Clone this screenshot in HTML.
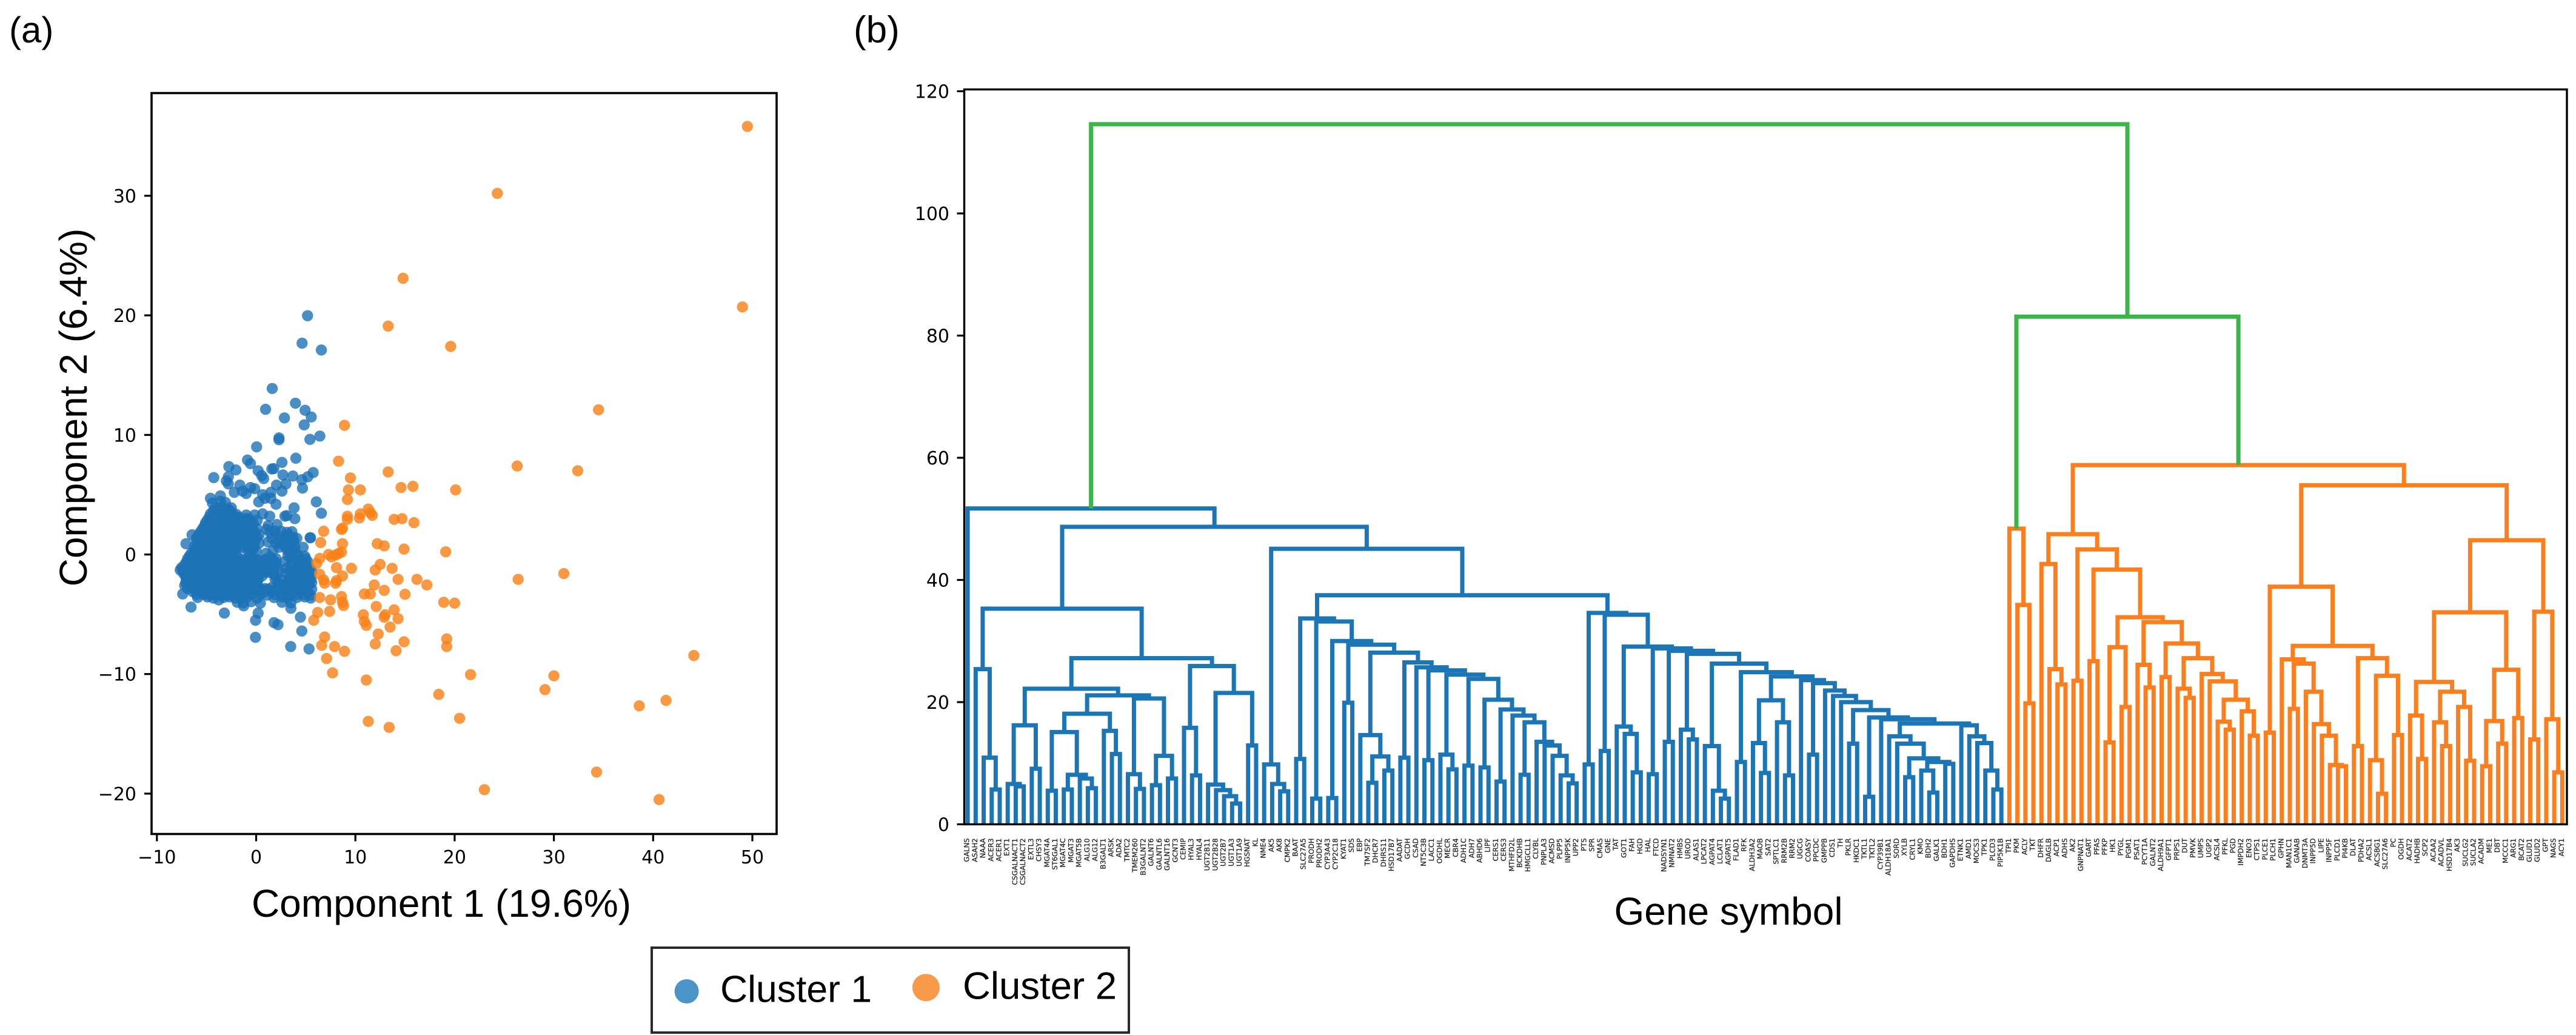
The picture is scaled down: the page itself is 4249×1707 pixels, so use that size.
<!DOCTYPE html>
<html lang="en">
<head>
<meta charset="utf-8">
<title>Gene clusters: PCA scatter and dendrogram</title>
<style>
html,body{margin:0;padding:0;background:#fff;}
svg{display:block;}
.h{font-family:"Liberation Sans",sans-serif;fill:#000;}
.t{font-family:"DejaVu Sans",sans-serif;fill:#000;}
</style>
</head>
<body>
<svg id="fig" xmlns="http://www.w3.org/2000/svg" width="4249" height="1707" viewBox="0 0 4249 1707">
  <rect x="0" y="0" width="4249" height="1707" fill="#fff"/>
  <text class="h" x="15" y="70" font-size="60">(a)</text>
  <text class="h" x="1408" y="70" font-size="62">(b)</text>
  <g id="scatter"></g>
  <g id="dendro"></g>
  <text class="h" x="728" y="1512" font-size="64" text-anchor="middle">Component 1 (19.6%)</text>
  <text class="h" transform="translate(143,672) rotate(-90)" font-size="64" text-anchor="middle">Component 2 (6.4%)</text>
  <text class="h" x="2851" y="1525" font-size="64" text-anchor="middle">Gene symbol</text>
  <g>
    <rect x="1075" y="1563" width="787" height="140" fill="#fff" stroke="#2a2a2a" stroke-width="4"/>
    <circle cx="1132.6" cy="1635" r="20" fill="#4a94c8"/>
    <text class="h" x="1188" y="1652.5" font-size="62.5">Cluster 1</text>
    <circle cx="1527.4" cy="1628.7" r="22.5" fill="#f99a4b"/>
    <text class="h" x="1588" y="1647.5" font-size="63.5">Cluster 2</text>
  </g>
</svg>
<script>
/* ---------- Panel (a) data ---------- */
const pcaXTicks = [-10, 0, 10, 20, 30, 40, 50];
const pcaYTicks = [-20, -10, 0, 10, 20, 30];

const clusterOnePoints = [
[5.18,19.97],[4.63,17.67],[6.57,17.1],[1.62,13.88],[3.96,12.65],[0.95,12.14],[4.93,12.06],[5.55,11.5],[2.85,11.42],[4.84,10.84],
[2.3,9.75],[2.3,9.6],[6.42,9.9],[5.42,9.63],[0.05,9],[4,8.05],[-0.87,7.9],[-0.57,7.6],[2.6,7.7],[1.58,7.15],[1.78,7.18],
[-2.75,7.35],[-2.04,7.07],[0.2,7],[0.56,6.6],[0.76,6.35],[2.7,6.65],[3.7,6.56],[5.75,6.85],[5.2,6.5],[4.6,6.25],[-4.27,6.43],
[-3,6.15],[-2.8,6.5],[-2.8,5.9],[2.05,5.8],[3,5.9],[4.67,5.55],[2.6,5.3],[-1.64,5.8],[-0.57,5.6],[-1.37,5.3],[-1,5.1],[-2.2,5.2],
[-0.15,5.5],[1.48,5.2],[0.65,5],[-4.6,4.7],[-3.6,4.9],[0.26,4.4],[0.87,4.7],[1.48,4.7],[2,4.2],[6.06,4.4],[3.82,3.9],[6.57,3.45],
[2.9,3.2],[3.1,3.25],[3.9,3],[-1,3.3],[-0.15,3.3],[0.65,3.4],[1.37,3.2],[-2,3.35],[2.1,2.5],[5.47,1.4],[4.73,0.6],[-7.07,0.9],[-6.46,1.65],
[-7.65,-1.3],[-7.4,-3.3],[-6.56,-4.4],[-3.77,-3.8],[-3.2,-4.9],[-1.26,-4.3],[0.2,-4.9],[-0.06,-5.5],[1.8,-5.7],[2.2,-5.87],[4.46,-5.24],
[4.6,-6.4],[-0.07,-6.93],[3.48,-7.7],[5.33,-7.9],[3.5,-4.5],[2.6,-4],[0.43,-4.07],[5.44,1.4],
[-4.4,4.3],[-3.6,4.45],[-3.1,4.35],[-4.1,3.9],[-3.5,3.95],[-2.9,3.85],[-2.5,3.9],[-4.6,3.4],[-4,3.35],[-3.4,3.45],[-2.8,3.4],[-2.3,3.3],
[-4.9,2.9],[-4.3,2.95],[-3.7,2.85],[-3.1,2.9],[-2.5,2.95],[-1.9,2.85],[-1.3,2.9],[-0.7,2.95],[0.1,2.85],
[-5.2,2.4],[-4.6,2.45],[-4,2.35],[-3.4,2.4],[-2.8,2.45],[-2.2,2.35],[-1.6,2.4],[-1,2.45],[-0.4,2.35],[1.2,2.4],[1.9,1.95],
[-5.6,1.9],[-5,1.95],[-4.4,1.85],[-3.8,1.9],[-3.2,1.95],[-2.6,1.85],[-2,1.9],[-1.4,1.95],[-0.8,1.85],[-0.2,1.9],[1.4,1.85],[2.5,1.95],[3.1,1.85],[3.6,1.9],
[-6,1.4],[-5.4,1.45],[-4.8,1.35],[-4.2,1.4],[-3.6,1.45],[-3,1.35],[-2.4,1.4],[-1.8,1.45],[-1.2,1.35],[-0.6,1.4],[0.1,1.45],[1.6,1.35],[2.9,1.4],[3.7,1.45],[4.1,1.35],
[-5.9,0.9],[-5.3,0.95],[-4.7,0.85],[-4.1,0.9],[-3.5,0.95],[-2.9,0.85],[-2.3,0.9],[-1.7,0.95],[-1.1,0.85],[-0.5,0.9],[0.3,0.95],[1.2,1.05],[2,0.95],[2.6,0.85],[3.4,0.9],
[-6.2,0.4],[-5.6,0.45],[-5,0.35],[-4.4,0.4],[-3.8,0.45],[-3.2,0.35],[-2.6,0.4],[-2,0.45],[-0.9,0.4],[-0.3,0.45],[1,0.1],[1.7,0.35],[3.1,0.4],[3.8,0.45],
[-6.7,-0.1],[-6.1,-0.05],[-5.5,-0.15],[-4.9,-0.1],[-4.3,-0.05],[-3.7,-0.15],[-3.1,-0.1],[-2.5,-0.05],[-1.9,-0.15],[-0.6,-0.3],[0.1,-0.4],[1.4,-0.2],[2,-0.35],[3.2,-0.1],[4.2,-0.05],[4.9,-0.15],
[-7,-0.6],[-6.4,-0.55],[-5.8,-0.65],[-5.2,-0.6],[-4.6,-0.55],[-4,-0.65],[-3.4,-0.6],[-2.8,-0.55],[-2.2,-0.65],[-1.6,-0.6],[-1,-0.55],[-0.4,-0.65],[0.2,-0.7],[0.8,-0.55],[1.4,-0.65],[2,-0.7],[2.9,-0.6],[4,-0.55],[4.6,-0.65],[5.2,-0.6],
[-7.5,-1.1],[-6.9,-1.05],[-6.3,-1.15],[-5.7,-1.1],[-5.1,-1.05],[-4.5,-1.15],[-3.9,-1.1],[-3.3,-1.05],[-2.7,-1.15],[-2.1,-1.1],[-1.5,-1.05],[-0.9,-1.15],[-0.3,-1.1],[0.3,-1.05],[0.9,-1.15],[1.5,-1.1],[2.1,-1.05],[3.1,-1.15],[4.1,-1.1],[4.8,-1.05],[5.4,-1.15],
[-7.3,-1.6],[-6.7,-1.55],[-6.1,-1.65],[-5.5,-1.6],[-4.9,-1.55],[-4.3,-1.65],[-3.7,-1.6],[-3.1,-1.55],[-2.5,-1.65],[-1.9,-1.6],[-1.3,-1.55],[-0.7,-1.65],[-0.1,-1.6],[0.5,-1.55],[1.1,-1.5],[1.7,-1.6],[3,-1.55],[3.9,-1.65],[4.5,-1.6],[5.2,-1.55],
[-7,-2.1],[-6.4,-2.05],[-5.8,-2.15],[-5.2,-2.1],[-4.6,-2.05],[-4,-2.15],[-3.4,-2.1],[-2.8,-2.05],[-2.2,-2.15],[-1.6,-2.1],[-1,-2.05],[-0.4,-2.15],[0.2,-2.1],[1.9,-2.05],[2.6,-2.15],[3.4,-2.1],[4.2,-2.05],[4.9,-2.15],[5.5,-2.1],
[-7.2,-2.6],[-6.6,-2.55],[-6,-2.65],[-5.4,-2.6],[-4.8,-2.55],[-4.2,-2.65],[-3.6,-2.6],[-3,-2.55],[-2.4,-2.65],[-1.8,-2.6],[-1.2,-2.55],[-0.6,-2.65],[0.2,-2.7],[0.9,-2.85],[1.6,-2.75],[2.3,-2.65],[3,-2.55],[3.8,-2.65],[4.6,-2.6],[5.3,-2.55],
[-6.4,-3.1],[-5.6,-3.05],[-5,-3.15],[-4.4,-3.1],[-3.8,-3.05],[-3.2,-3.15],[-2.6,-3.1],[-2,-3.05],[-1.4,-3.15],[-0.8,-3.1],[0.1,-3.05],[0.8,-3.15],[1.5,-3.1],[2.2,-3.05],[3,-3.15],[3.7,-3.1],[4.4,-3.05],[5.2,-3.15],
[-5.9,-3.6],[-4.9,-3.55],[-4.3,-3.65],[-3.3,-3.6],[-2.7,-3.55],[-2.1,-3.65],[-1.5,-3.6],[-0.9,-3.55],[0.1,-3.65],[1.8,-3.6],[2.6,-3.55],[3.2,-3.65],[4.1,-3.6],[4.9,-3.55],[5.5,-3.65],
[-1.9,-4],[-1.3,-4.05],[-0.5,-3.95],[3.5,-4.05],
[-4.3,3.65],[-3.7,3.65],[-3.1,3.6],[-2.6,3.65],[-4.7,3.15],[-4.1,3.15],[-3.5,3.1],[-2.9,3.15],[-2.4,3.15],[-1.7,3.1],[-1,3],
[-5.1,2.65],[-4.5,2.65],[-3.9,2.6],[-3.3,2.65],[-2.7,2.65],[-2.1,2.6],[-1.5,2.65],[-0.9,2.65],[-0.3,2.6],
[-5.4,2.15],[-4.8,2.15],[-4.2,2.1],[-3.6,2.15],[-3,2.15],[-2.4,2.1],[-1.8,2.15],[-1.2,2.15],[-0.6,2.1],[0.1,2.15],[1.1,2.1],
[-5.8,1.65],[-5.2,1.65],[-4.6,1.6],[-4,1.65],[-3.4,1.65],[-2.8,1.6],[-2.2,1.65],[-1.6,1.65],[-1,1.6],[-0.4,1.65],[0.3,1.65],[2.1,1.6],[3.2,1.65],
[-6,1.15],[-5.6,1.15],[-5,1.1],[-4.4,1.15],[-3.8,1.15],[-3.2,1.1],[-2.6,1.15],[-2,1.15],[-1.4,1.1],[-0.8,1.15],[-0.1,1.15],[2.3,1.1],[3.1,1.15],[3.8,1.15],
[-6.2,0.65],[-5.6,0.65],[-5,0.6],[-4.4,0.65],[-3.8,0.65],[-3.2,0.6],[-2.6,0.65],[-2,0.65],[-1.4,0.6],[-0.8,0.65],[-0.2,0.65],[2.3,0.6],[3,0.65],[3.9,0.65],
[-6.5,0.15],[-5.9,0.15],[-5.3,0.1],[-4.7,0.15],[-4.1,0.15],[-3.5,0.1],[-2.9,0.15],[-2.3,0.15],[-0.6,0.1],[0,0.3],[3.4,0.15],[4,0.1],
[-6.9,-0.35],[-6.3,-0.35],[-5.7,-0.4],[-5.1,-0.35],[-4.5,-0.35],[-3.9,-0.4],[-3.3,-0.35],[-2.7,-0.35],[-2.1,-0.4],[-1.5,-0.4],[-0.9,-0.35],[-0.3,-0.4],[0.4,-0.5],[1,-0.4],[1.7,-0.45],[3.5,-0.35],[4.4,-0.4],[5,-0.35],
[-7.2,-0.85],[-6.6,-0.85],[-6,-0.9],[-5.4,-0.85],[-4.8,-0.85],[-4.2,-0.9],[-3.6,-0.85],[-3,-0.85],[-2.4,-0.9],[-1.8,-0.85],[-1.2,-0.85],[-0.6,-0.9],[0,-0.85],[0.6,-0.85],[1.2,-0.9],[1.8,-0.85],[3.5,-0.85],[4.4,-0.9],[5.1,-0.85],
[-7.4,-1.35],[-6.8,-1.35],[-6.2,-1.4],[-5.6,-1.35],[-5,-1.35],[-4.4,-1.4],[-3.8,-1.35],[-3.2,-1.35],[-2.6,-1.4],[-2,-1.35],[-1.4,-1.35],[-0.8,-1.4],[-0.2,-1.35],[0.4,-1.35],[1,-1.4],[1.6,-1.35],[2.3,-1.4],[3.5,-1.35],[4.3,-1.4],[5,-1.35],[5.6,-1.4],
[-7.1,-1.85],[-6.5,-1.85],[-5.9,-1.9],[-5.3,-1.85],[-4.7,-1.85],[-4.1,-1.9],[-3.5,-1.85],[-2.9,-1.85],[-2.3,-1.9],[-1.7,-1.85],[-1.1,-1.85],[-0.5,-1.9],[0.1,-1.85],[0.6,-1.8],[2,-1.85],[3.4,-1.85],[4.2,-1.9],[4.9,-1.85],[5.5,-1.85],
[-7.1,-2.35],[-6.5,-2.35],[-5.9,-2.4],[-5.3,-2.35],[-4.7,-2.35],[-4.1,-2.4],[-3.5,-2.35],[-2.9,-2.35],[-2.3,-2.4],[-1.7,-2.35],[-1.1,-2.35],[-0.5,-2.4],[0.1,-2.35],[2.2,-2.35],[3,-2.4],[3.6,-2.35],[4.4,-2.4],[5.1,-2.35],[5.6,-2.35],
[-6.9,-2.85],[-6.3,-2.85],[-5.7,-2.9],[-5.1,-2.85],[-4.5,-2.85],[-3.9,-2.9],[-3.3,-2.85],[-2.7,-2.85],[-2.1,-2.9],[-1.5,-2.85],[-0.9,-2.85],[-0.3,-2.9],[0.5,-2.9],[1.2,-2.9],[2,-2.85],[2.7,-2.85],[3.4,-2.9],[4.2,-2.85],[4.9,-2.85],[5.6,-2.9],
[-6,-3.35],[-5.3,-3.35],[-4.7,-3.4],[-4.1,-3.35],[-3.5,-3.35],[-2.9,-3.4],[-2.3,-3.35],[-1.7,-3.35],[-1.1,-3.4],[-0.5,-3.35],[0.4,-3.35],[1.1,-3.4],[1.9,-3.35],[2.6,-3.35],[3.4,-3.4],[4.1,-3.35],[4.8,-3.35],[5.5,-3.4]
];

const clusterTwoPoints = [
[49.5,35.8],[24.3,30.2],[14.8,23.1],[13.3,19.1],[19.6,17.4],[49,20.7],[34.5,12.1],[8.9,10.8],[8.3,7.8],[26.3,7.4],[32.4,7],[13.3,6.9],
[9.5,6.4],[15.8,5.7],[14.6,5.6],[20.1,5.4],[9.3,5.4],[10.5,5.4],[9.2,4.6],[11.3,3.8],[11.5,3.5],[10.5,3.4],[9.2,3.2],[9.2,2.94],[10.4,3.05],
[11.7,3.27],[13.9,2.94],[14.7,2.99],[15.9,2.66],[6.8,1.94],[8.7,2.2],[8.6,2.1],[6.5,1],[8.7,0.9],[12.2,0.9],[12.9,0.72],[14.9,0.45],[19.1,0.22],
[7.3,0],[8.3,0.08],[8,-0.05],[7.6,-0.2],[8.6,0.2],[6.4,-0.33],[6.1,-0.75],[8.1,-1.1],[9.6,-1.16],[12.5,-0.83],[13.7,-1.16],[12,-1.3],[6.4,-1.66],
[8.7,-1.8],[6.8,-2.13],[8.1,-2.19],[8,-2.4],[6.9,-2.4],[14.3,-2.08],[16.2,-2.08],[26.4,-2.08],[31,-1.6],[17.2,-2.55],[11.9,-2.55],[12.9,-3],
[10.9,-3.3],[11.5,-3.3],[15,-3.33],[8.6,-3.52],[6.4,-3.6],[7.5,-3.8],[8.7,-4],[8.8,-4.27],[18.9,-4],[20,-4.07],[12.1,-4.35],[13.9,-4.63],[6.2,-4.85],
[7.4,-4.76],[10.8,-5.04],[13,-5.04],[12.9,-5.24],[14.3,-5.37],[5.8,-5.5],[10.9,-5.6],[11.1,-5.93],[13.5,-6.07],[12.3,-6.65],[6.9,-6.9],[19.2,-7.06],
[14.9,-7.3],[12,-7.48],[6.6,-7.6],[7.9,-7.7],[19.2,-7.7],[8.9,-8.1],[14.1,-8.05],[7.1,-8.7],[44.1,-8.45],[7.7,-9.9],[11.1,-10.5],[21.6,-10.05],
[30,-10.15],[29.1,-11.3],[18.4,-11.7],[41.3,-12.2],[38.6,-12.66],[20.5,-13.7],[11.3,-13.96],[13.4,-14.46],[34.3,-18.2],[23,-19.67],[40.6,-20.5]
];

/* ---------- Panel (b) data ---------- */
const dendroYTicks = [0, 20, 40, 60, 80, 100, 120];

const geneLabels = ["GALNS","ASAH2","NAAA","ACER3","ACER1","EXT1","CSGALNACT1","CSGALNACT2","EXTL3","CHSY3","MGAT4A","ST6GAL1","MGAT4C","MGAT3","MGAT5B","ALG10","ALG12","B3GALT1","ARSK","ADA2","TMTC2","TMEM260","B3GALNT2","GALNT6","GALNTL6","GALNT16","GCNT3","CEMIP","HYAL3","HYAL4","UGT2B11","UGT2B28","UGT2B7","UGT1A3","UGT1A9","HGSNAT","KL","NME4","AK5","AK8","CMPK2","BAAT","SLC27A5","PRODH","PRODH2","CYP3A43","CYP2C18","KYAT1","SDS","EBP","TM7SF2",
"DHCR7","DHRS11","HSD17B7","AADAT","GCDH","CSAD","NT5C3B","LACC1","OGDHL","MECR","CBR4","ADH1C","ADH7","ABHD6","LIPF","CERS1","CERS3","MTHFD2L","BCKDHB","HMGCLL1","CLYBL","PNPLA3","ACMSD","PLPP5","INPP5K","UPP2","PTS","SPR","CMAS","GNE","TAT","GOT1","FAH","HGD","HAL","FTCD","NADSYN1","NMNAT2","HMBS","UROD","ALAS1","LPCAT2","AGPAT4","LCLAT1","AGPAT5","FLAD1","RFK","ALDH3A2","MAOB","SAT2","SPTLC1","RRM2B","RRM2",
"UGCG","COASY","PPCDC","GMPPB","CDS1","TH","PKLR","HKDC1","TKTL1","TKTL2","CYP39B1","ALDH18A1","SORD","XYLB","CRYL1","KMO","BDH2","GALK1","BDH1","GAPDHS","ETNK1","AMD1","MOCS3","TPK1","PLCD3","PIP5K1B","TPI1","PKM","ACLY","TKT","DHFR","DAGLB","ACP1","ADHS","AK2","GNPNAT1","GART","PFAS","PFKP","HK1","PYGL","PGM1","PSAT1","PCYT1A","GALNT2","ALDH9A1","GFPT1","PRPS1","DUT",
"PMVK","UMPS","UGP2","ACSL4","PFKL","PGD","IMPDH2","ENO3","CTPS1","PLCE1","PLCH1","GPHN","MAN1C1","GANAB","DNMT3A","INPP5D","LIPE","INPP5F","PLCD1","PI4KB","DLAT","PDHA2","ACSL1","ACSBG1","SLC27A6","PC","OGDH","ACAT2","HADHB","SCP2","ACAA2","ACADVL","HSD17B4","AK3","SUCLG2","SUCLA2","ACADM","ME1","DBT","MCCC1","ARG1","BCAT2","GLUD1","GLUD2","GPT","NAGS","ACY1"];

/* Merge tree: each node is [merge height, left child, right child]; a child that is a number is a leaf index into geneLabels. */
const blueA1 = [16.2,[6.6,5,[6.2,6,7]],[9.1,8,9]];
const blueA2 = [21.1,[18.1,[15.1,[5.5,10,11],[8.1,[5.7,12,13],[7.5,14,[5.9,15,16]]]],[15.3,17,[11.5,18,19]]],[20.6,[8.2,20,[5.8,21,22]],[11.2,[6.4,23,24],[7.5,25,26]]]];
const blueB = [25.9,[15.8,27,[8,28,29]],[21.5,[6.5,30,[5.6,31,[4.6,32,[3.4,33,34]]]],[12.9,35,36]]];
const blueD = [35.3,[25.4,1,[10.9,2,[5.7,3,4]]],[27.2,[22.2,blueA1,blueA2],blueB]];

const blueK5 = [13.5,71,[12.9,72,[11.2,73,[8,74,[6.7,75,76]]]]];
const blueK4 = [18.8,[7,66,67],[17.8,68,[16.7,[8.1,69,70],blueK5]]];
const blueK3 = [24.5,[11.4,59,[9,60,61]],[23.8,[9.6,62,63],[20.4,[9.3,64,65],blueK4]]];
const blueK = [26.5,[10.9,54,55],[25.7,56,[25.2,[10.5,57,58],blueK3]]];
const blueJ = [28.1,[14.6,49,[11.1,[6.8,50,51],[8.8,52,53]]],blueK];
const blueG = [33.7,[10.7,41,42],[33.2,[4.2,43,44],[30,[4.3,45,46],[29.4,[19.9,47,48],blueJ]]]];

const blueH5 = [16.2,124,[14.4,125,[13.3,126,[8.8,127,[5.7,128,129]]]]];
const blueH4 = [14.4,115,[13.2,116,[10.8,[7.7,117,118],[10.2,[8.8,119,[5.2,120,121]],[9.9,122,123]]]]];
const blueH3 = [18.7,[13.2,110,111],[17.5,[4.5,112,113],[17.2,114,[16.5,blueH4,blueH5]]]];
const blueH2 = [23.6,104,[23.1,[11.4,105,106],[21.9,107,[21,108,[20,109,blueH3]]]]];
const blueH1 = [24.9,[10.2,96,97],[24.2,[20.3,[13.3,98,[8.4,99,100]],[16.7,101,[8,102,103]]],blueH2]];
const blueH0 = [27.9,[15.5,89,[13.9,90,91]],[26.3,[12.8,92,[5.5,93,[4.2,94,95]]],blueH1]];
const blueH = [34.6,[9.8,77,78],[34.3,[12,79,80],[29.1,[16,81,[14.8,82,[8.5,83,84]]],[28.8,[8.2,85,86],[28.4,[13.5,87,88],blueH0]]]]];

const blueE = [45.1,[9.8,37,[6.6,38,[5.4,39,40]]],[37.5,blueG,blueH]];
const blueRoot = [51.7,0,[48.7,blueD,blueE]];

const orangeFirst = [48.4,130,[35.9,131,[19.8,132,133]]];
const orangeO1 = [42.6,134,[25.4,135,[22.9,136,137]]];
const orangeO5 = [29.6,[24.1,149,150],[27.2,[22.2,151,[20.7,152,153]],[24.6,154,[23.4,155,[20.4,[16.8,156,[15.5,157,158]],[18.5,159,[14.5,160,161]]]]]]];
const orangeO4 = [33.1,[26.1,146,[22.4,147,148]],orangeO5];
const orangeO3 = [33.9,[29,[13.4,142,143],[19.2,144,145]],orangeO4];
const orangeO2 = [45,[23.5,138,139],[41.7,[26.7,140,141],orangeO3]];
const orangeR1 = [38.9,[15,162,163],[29.2,[27,164,[26.3,[18.9,165,166],[21.7,167,[16.4,168,[14.5,169,[9.7,170,[9.5,171,172]]]]]]],[27.2,[12.8,173,174],[24.3,[10.5,175,[5,176,177]],[14.6,178,179]]]]];
const orangeR2 = [46.5,[34.7,[23.3,[17.8,180,[10.7,181,182]],[21.7,[16.7,183,[12.8,184,185]],[19.2,186,[10.4,187,188]]]],[25.3,[16.9,[9.5,189,190],[13.2,191,192]],[17.4,193,194]]],[34.8,[13.9,195,196],[17.2,197,[8.5,198,199]]]];
const orangeMain = [58.8,[47.5,orangeO1,orangeO2],[55.5,orangeR1,orangeR2]];
const treeRoot = [114.6,blueRoot,[83.1,orangeFirst,orangeMain]];

const greenThreshold = [60];
const firstOrangeLeaf = [130];

/* ---------- Helpers ---------- */
const NS = 'http://www.w3.org/2000/svg';
function mk(tag, attrs, parent){
  const el = document.createElementNS(NS, tag);
  for (const k in attrs) el.setAttribute(k, attrs[k]);
  parent.appendChild(el);
  return el;
}
function fmtTick(v){ return v < 0 ? '\u2212' + Math.abs(v) : String(v); }

/* ---------- Panel (a) ---------- */
const scatter = document.getElementById('scatter');
const ax = {l:250, r:1281, t:153.5, b:1375.5};
function px(v){ return 422.5 + v * 16.37; }
function py(v){ return 914.5 - v * 19.72; }

for (const p of clusterOnePoints){
  const c = mk('circle', {cx:px(p[0]), cy:py(p[1]), r:9.2, fill:'#1c72b5', 'fill-opacity':0.8}, scatter);
  
  
}
for (const p of clusterTwoPoints){
  const c = mk('circle', {cx:px(p[0]), cy:py(p[1]), r:9.2, fill:'#f77f14', 'fill-opacity':0.8}, scatter);
  
  
}
const frameA = mk('rect', {x:ax.l, y:ax.t, width:ax.r-ax.l, height:ax.b-ax.t, fill:'none', stroke:'#000', 'stroke-width':3.6}, scatter);



for (const v of pcaXTicks){
  const tick = mk('line', {x1:px(v), x2:px(v), y1:ax.b, y2:ax.b+12, stroke:'#000', 'stroke-width':3.2}, scatter);
  
  
  const lab = mk('text', {x:px(v), y:1424, 'text-anchor':'middle', 'font-size':30, class:'t'}, scatter);
  
  
  lab.textContent = fmtTick(v);
}
for (const v of pcaYTicks){
  const tick = mk('line', {x1:ax.l-12, x2:ax.l, y1:py(v), y2:py(v), stroke:'#000', 'stroke-width':3.2}, scatter);
  
  
  const lab = mk('text', {x:225, y:py(v)+11, 'text-anchor':'end', 'font-size':30, class:'t'}, scatter);
  
  
  lab.textContent = fmtTick(v);
}

/* ---------- Panel (b) ---------- */
const dendro = document.getElementById('dendro');
const bx = {l:1590.5, r:4234, t:147.5, b:1359.5};
function leafX(i){ return 1589.5 + (5 + 10 * i) * (4233 - 1589.5) / 2000; }
function heightY(h){ return 1359.5 - h * 10.075; }

function drawNode(node){
  if (typeof node === 'number') return {pos:node, h:0, leaf:node};
  const a = drawNode(node[1]);
  const b = drawNode(node[2]);
  const isGreen = node[0] > greenThreshold[0];
  const color = isGreen ? '#3cb44a' : (a.leaf < firstOrangeLeaf[0] ? '#1c76b6' : '#fb7f1f');
  const d = 'M' + leafX(a.pos) + ' ' + heightY(a.h) + 'V' + heightY(node[0]) + 'H' + leafX(b.pos) + 'V' + heightY(b.h);
  const link = mk('path', {d:d, fill:'none', stroke:color, 'stroke-width':7, 'stroke-linejoin':'miter'}, dendro);
  
  
  return {pos:(a.pos + b.pos) / 2, h:node[0], leaf:a.leaf};
}
drawNode(treeRoot);

const frameB = mk('rect', {x:bx.l, y:bx.t, width:bx.r-bx.l, height:bx.b-bx.t, fill:'none', stroke:'#000', 'stroke-width':3.4}, dendro);



for (const v of dendroYTicks){
  const tick = mk('line', {x1:bx.l-12, x2:bx.l, y1:heightY(v), y2:heightY(v), stroke:'#000', 'stroke-width':3.2}, dendro);
  
  
  const lab = mk('text', {x:1566, y:heightY(v)+11, 'text-anchor':'end', 'font-size':30, class:'t'}, dendro);
  
  
  lab.textContent = fmtTick(v);
}
geneLabels.forEach(function(name, i){
  const gx = leafX(i) + 2.5;
  const lab = mk('text', {transform:'translate(' + gx + ',1382.5) rotate(-90)', 'text-anchor':'end', 'font-size':11.5, class:'t', style:'fill:#222;stroke:#222;stroke-width:0.25'}, dendro);
  
  
  lab.textContent = name;
});
</script>
</body>
</html>
